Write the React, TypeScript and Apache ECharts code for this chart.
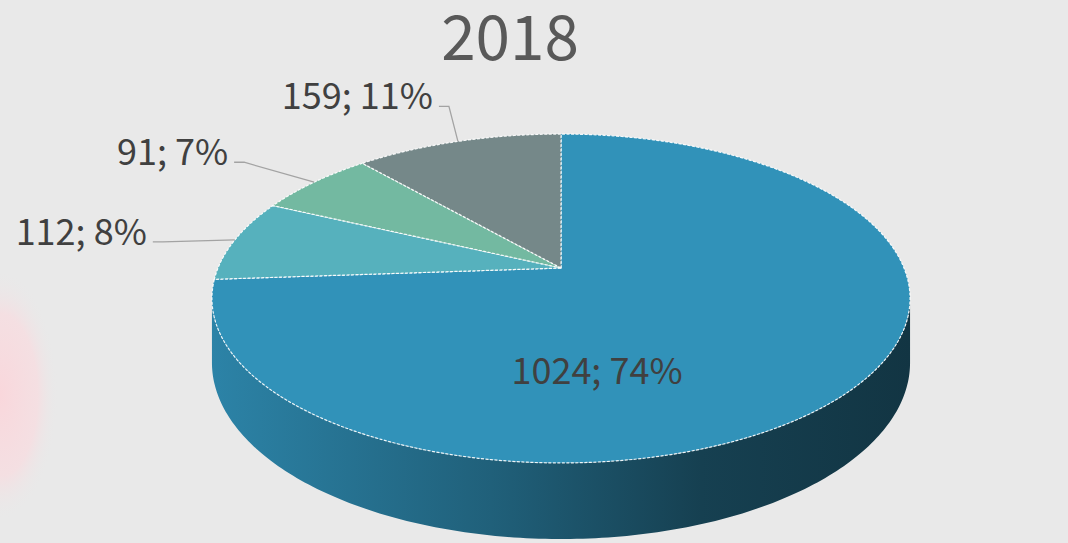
import React, { useEffect, useRef } from "react";
import * as echarts from "echarts";

// ---- data ----
const chartTitle = "2018";
const categories = ["類別一", "類別二", "類別三", "類別四"];
const values = [1024, 112, 91, 159];
const colors = ["#3192b9", "#56b1bd", "#73b9a1", "#758889"];

// ---- layout (not data) ----
// label placement: inside labels offset from the pie centre, outside labels give the leader elbow offset from the slice edge
const labelModes = ["inside", "outside", "outside", "outside"];
const labelOffsets = [
  [36, 100],
  [-72, 2],
  [-70, -20],
  [-9, -35],
];

const FONT = '"Noto Sans CJK TC", "Noto Sans CJK SC", "Noto Sans", sans-serif';
const total = values.reduce((a, b) => a + b, 0);
const cum: number[] = [];
values.reduce((acc, v, i) => {
  cum[i] = acc;
  return acc + v;
}, 0);
const START = -Math.PI / 2;

function geom(W: number, Hh: number) {
  const sx = W / 1068;
  const sy = Hh / 543;
  const CX = 561 * sx;
  const CY = 268 * sy;
  const A = 343 * sx;
  const B = 158.8 * sy;
  const K = 0.1854;
  const D = 62 * sy;
  const p = (r: number, t: number, d = 0) => {
    const s = Math.sin(t);
    const c = Math.cos(t);
    const w = 1 - K * r * s;
    return [CX + (A * r * c) / w, CY + (B * r * s) / w + d / w];
  };
  return { CX, CY, A, B, K, D, p, sx, sy };
}

function shade(hex: string, f: number) {
  const n = parseInt(hex.slice(1), 16);
  const r = Math.round(((n >> 16) & 255) * f);
  const g = Math.round(((n >> 8) & 255) * f);
  const b = Math.round((n & 255) * f);
  return `rgb(${r},${g},${b})`;
}

function sliceAngles(i: number) {
  const t0 = START + (cum[i] / total) * Math.PI * 2;
  const t1 = t0 + (values[i] / total) * Math.PI * 2;
  return [t0, t1];
}

function arc(g: any, t0: number, t1: number, d = 0) {
  const pts: number[][] = [];
  const n = Math.max(6, Math.ceil(Math.abs(t1 - t0) / 0.015));
  for (let k = 0; k <= n; k++) pts.push(g.p(1, t0 + ((t1 - t0) * k) / n, d));
  return pts;
}

function renderWall(params: any, api: any) {
  const g = geom(api.getWidth(), api.getHeight());
  const tR = Math.asin(g.K);
  const tL = Math.PI - tR;
  const children: any[] = [];
  values.forEach((_, i) => {
    const [t0, t1] = sliceAngles(i);
    const a = Math.max(t0, tR);
    const b = Math.min(t1, tL);
    if (b <= a) return;
    const top = arc(g, a, b, 0);
    const bottom = arc(g, b, a, g.D);
    const left = g.CX - g.A * 1.02;
    const right = g.CX + g.A * 1.02;
    children.push({
      type: "polygon",
      shape: { points: top.concat(bottom) },
      style: {
        fill: {
          type: "linear",
          x: left,
          y: 0,
          x2: right,
          y2: 0,
          global: true,
          colorStops: [
            { offset: 0, color: shade(colors[i], 0.9) },
            { offset: 0.4, color: shade(colors[i], 0.66) },
            { offset: 0.7, color: shade(colors[i], 0.44) },
            { offset: 1, color: shade(colors[i], 0.36) },
          ],
        },
        stroke: null,
      },
    });
  });
  return { type: "group", children };
}

function renderSlice(params: any, api: any) {
  const i = params.dataIndex;
  const v = api.value(0);
  const g = geom(api.getWidth(), api.getHeight());
  const [t0, t1] = sliceAngles(i);
  const pts = [g.p(0, 0)].concat(arc(g, t0, t1, 0));
  const children: any[] = [
    {
      type: "polygon",
      shape: { points: pts },
      style: {
        fill: colors[i],
        stroke: "rgba(255,255,255,0.9)",
        lineWidth: 1.2,
        lineDash: [3, 1.5],
      },
    },
  ];
  const pct = Math.round((v / total) * 100);
  const text = `${v}; ${pct}%`;
  const [ox, oy] = labelOffsets[i];
  if (labelModes[i] === "inside") {
    children.push({
      type: "text",
      style: {
        text,
        x: g.CX + ox * g.sx,
        y: g.CY + oy * g.sy,
        align: "center",
        verticalAlign: "middle",
        textAlign: "center",
        textVerticalAlign: "middle",
        fill: "#404040",
        fontSize: 36,
        fontFamily: FONT,
      },
    });
  } else {
    const mid = (t0 + t1) / 2;
    const anchor = g.p(1, mid);
    const elbow = [anchor[0] + ox * g.sx, anchor[1] + oy * g.sy];
    const dir = ox < 0 ? -1 : 1;
    const tail = [elbow[0] + dir * 10, elbow[1]];
    children.push({
      type: "polyline",
      shape: { points: [anchor, elbow, tail] },
      style: { stroke: "#a3a3a3", lineWidth: 1.3, fill: null },
    });
    children.push({
      type: "text",
      style: {
        text,
        x: tail[0] + dir * 6,
        y: tail[1] - 13,
        align: dir < 0 ? "right" : "left",
        verticalAlign: "middle",
        textAlign: dir < 0 ? "right" : "left",
        textVerticalAlign: "middle",
        fill: "#404040",
        fontSize: 36,
        fontFamily: FONT,
      },
    });
  }
  return { type: "group", children };
}

export default function App() {
  const ref = useRef<HTMLDivElement>(null);
  useEffect(() => {
    if (!ref.current) return;
    const chart = echarts.init(ref.current, null, { renderer: "svg" });
    chart.setOption({
      animation: false,
      backgroundColor: "#e9e9e9",
      title: {
        text: chartTitle,
        left: 505,
        top: 3,
        textAlign: "center",
        textStyle: {
          fontSize: 62,
          lineHeight: 50,
          fontWeight: "normal",
          color: "#595959",
          fontFamily: FONT,
        },
      },
      graphic: [
        {
          type: "ellipse",
          z: -10,
          silent: true,
          shape: { cx: 0, cy: 395, rx: 58, ry: 125 },
          style: {
            fill: {
              type: "radial",
              x: 0.5,
              y: 0.5,
              r: 0.5,
              colorStops: [
                { offset: 0, color: "rgba(250,214,219,0.95)" },
                { offset: 0.65, color: "rgba(248,220,224,0.75)" },
                { offset: 1, color: "rgba(233,233,233,0)" },
              ],
            },
          },
        },
      ],
      series: [
        {
          type: "custom",
          coordinateSystem: "none",
          silent: true,
          z: 1,
          data: [0],
          renderItem: renderWall,
        },
        {
          type: "custom",
          coordinateSystem: "none",
          z: 2,
          data: values.map((v, i) => ({ name: categories[i], value: [v, i] })),
          renderItem: renderSlice,
        },
      ],
    });
    return () => chart.dispose();
  }, []);
  return (
    <div
      ref={ref}
      style={{ position: "absolute", left: 0, top: 0, width: 1068, height: 543 }}
    />
  );
}
